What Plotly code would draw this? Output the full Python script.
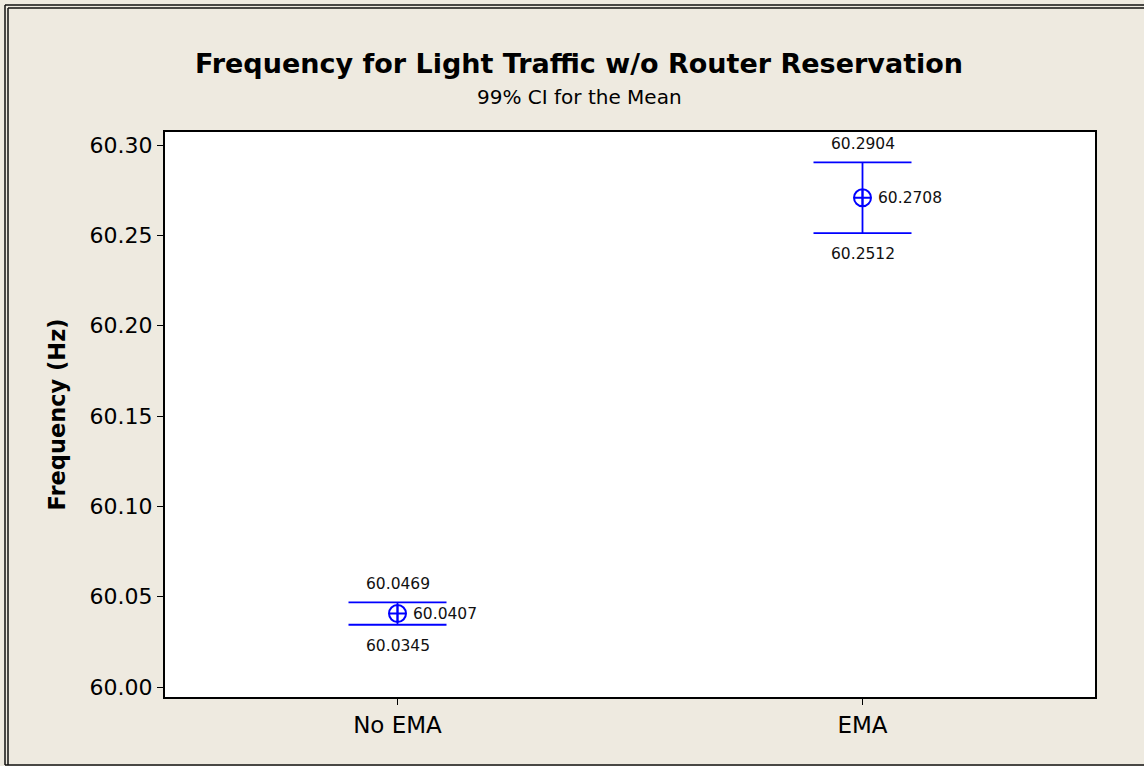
import plotly.graph_objects as go

# data
groups = ["No EMA", "EMA"]
means = [60.0407, 60.2708]
upper = [60.0469, 60.2904]
lower = [60.0345, 60.2512]

y_ticks = [60.00, 60.05, 60.10, 60.15, 60.20, 60.25, 60.30]

W, H = 1144, 766
L, R, T, B = 165, 49, 132, 69
PW, PH = W - L - R, H - T - B

BLUE = "#0000FF"
BG = "#EEEAE0"
FONT = "DejaVu Sans"


def px_x(p):
    return (p - L) / PW


def px_y(p):
    return (H - B - p) / PH


fig = go.Figure()
fig.add_trace(
    go.Scatter(
        x=groups,
        y=means,
        mode="markers",
        marker=dict(symbol="circle-cross-open", size=17, color=BLUE, line=dict(width=2, color=BLUE)),
        error_y=dict(
            type="data",
            symmetric=False,
            array=[u - m for u, m in zip(upper, means)],
            arrayminus=[m - l for m, l in zip(means, lower)],
            color=BLUE,
            thickness=1.8,
            width=49,
        ),
        showlegend=False,
        hoverinfo="skip",
    )
)

# value labels
for g, m, u, lo in zip(groups, means, upper, lower):
    fig.add_annotation(x=g, y=u, text=f"{u:.4f}", showarrow=False,
                       yanchor="bottom", yshift=7, font=dict(size=15.5, color="#111"))
    fig.add_annotation(x=g, y=lo, text=f"{lo:.4f}", showarrow=False,
                       yanchor="top", yshift=-10, font=dict(size=15.5, color="#111"))
    fig.add_annotation(x=g, y=m, text=f"{m:.4f}", showarrow=False,
                       xanchor="left", xshift=13, font=dict(size=15.5, color="#111"))

# titles
fig.add_annotation(xref="paper", yref="paper", x=px_x(579), y=px_y(63),
                   xanchor="center", yanchor="middle",
                   text="<b>Frequency for Light Traffic w/o Router Reservation</b>",
                   showarrow=False, font=dict(size=27, color="#000"))
fig.add_annotation(xref="paper", yref="paper", x=px_x(579), y=px_y(97),
                   xanchor="center", yanchor="middle",
                   text="99% CI for the Mean", showarrow=False,
                   font=dict(size=20, color="#000"))

# figure frame (double line top/left)
for off in (5, 8):
    fig.add_shape(type="line", xref="paper", yref="paper",
                  x0=px_x(off), x1=px_x(W + 5), y0=px_y(off), y1=px_y(off),
                  line=dict(color="#111", width=1.5))
    fig.add_shape(type="line", xref="paper", yref="paper",
                  x0=px_x(off), x1=px_x(off), y0=px_y(off), y1=px_y(765),
                  line=dict(color="#111", width=1.5))
fig.add_shape(type="line", xref="paper", yref="paper",
              x0=px_x(5), x1=px_x(W + 5), y0=px_y(765), y1=px_y(765),
              line=dict(color="#111", width=1.5))

fig.update_xaxes(
    range=[-0.5, 1.5],
    showgrid=False, zeroline=False,
    showline=True, linecolor="#000", linewidth=2, mirror=True,
    ticks="outside", ticklen=6, tickcolor="#000",
    tickfont=dict(size=23, color="#000"),
)
fig.update_yaxes(
    range=[59.9945, 60.3072],
    tickvals=y_ticks,
    tickformat=".2f",
    showgrid=False, zeroline=False,
    showline=True, linecolor="#000", linewidth=2, mirror=True,
    ticks="outside", ticklen=6, tickcolor="#000",
    tickfont=dict(size=22, color="#000"),
    title=dict(text="<b>Frequency (Hz)</b>", font=dict(size=22.5, color="#000"), standoff=18),
)

fig.update_layout(
    width=W, height=H,
    margin=dict(l=L, r=R, t=T, b=B),
    paper_bgcolor=BG,
    plot_bgcolor="#FFFFFF",
    font=dict(family=FONT, color="#000"),
)

# the page has a default body margin; drop it so the figure sits at (0, 0)
fig.write_html("out.html", config={"displayModeBar": False},
               post_script="document.body.style.margin='0';")
